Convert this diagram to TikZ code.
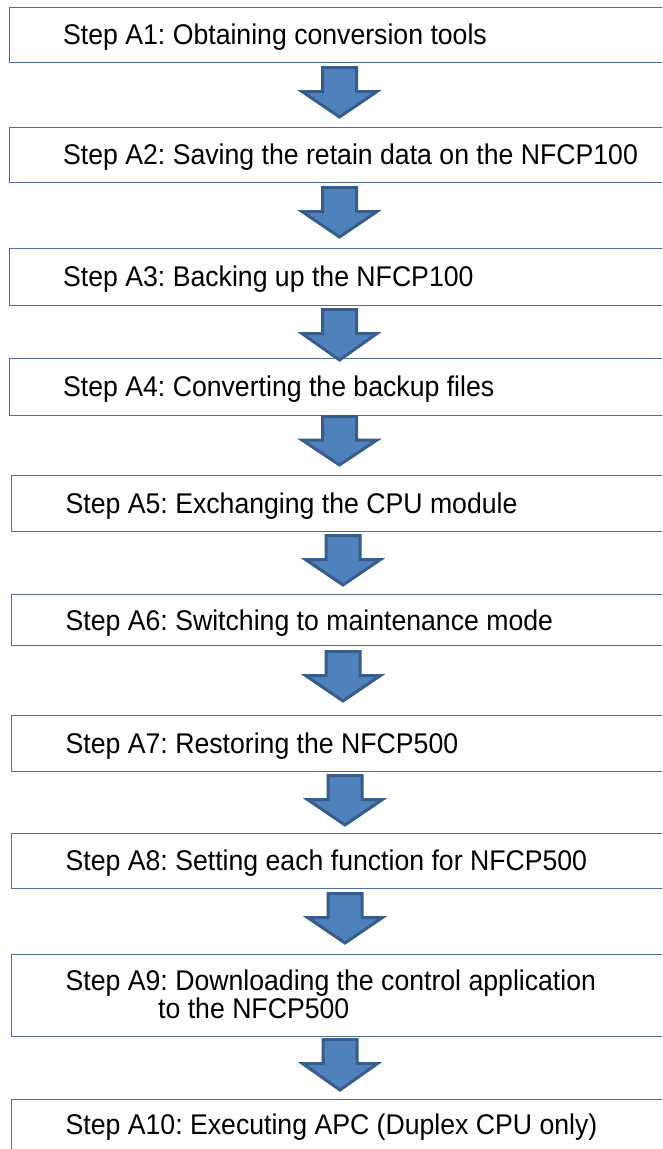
\documentclass[tikz,border=0pt]{standalone}
\usepackage{fontspec}
\setmainfont{Liberation Sans}[FakeStretch=0.935]
\frenchspacing
\definecolor{boxline}{RGB}{79,110,160}
\definecolor{arrfill}{RGB}{79,129,189}
\definecolor{arrline}{RGB}{56,93,138}
\tikzset{
  stepbox/.style={draw=boxline, line width=1.4pt, fill=white, minimum width=700pt, anchor=north west, inner sep=0pt},
  steptext/.style={anchor=base west, inner sep=0pt, font=\fontsize{28.5}{33}\selectfont},
  flowarr/.style={draw=arrline, fill=arrfill, line width=3pt, line join=miter, miter limit=10}
}
% x, shaft top, head base, tip
\newcommand\flowarrow[4]{%
  \draw[flowarr] (#1-17,#2) -- (#1+17,#2) -- (#1+17,#3) -- (#1+37.5,#3) -- (#1,#4) -- (#1-37.5,#3) -- (#1-17,#3) -- cycle;}
\begin{document}
\begin{tikzpicture}[x=1pt,y=-1pt]
\useasboundingbox (0,0) rectangle (662,1149);
\clip (0,0) rectangle (662,1149);
\fill[white] (0,0) rectangle (662,1149);

\node[stepbox, minimum height=55pt] (b1) at (9,7) {};
\node[stepbox, minimum height=55pt] (b2) at (9,127) {};
\node[stepbox, minimum height=57pt] (b3) at (9,248) {};
\node[stepbox, minimum height=57pt] (b4) at (9,358) {};
\node[stepbox, minimum height=56pt] (b5) at (11,475) {};
\node[stepbox, minimum height=51pt] (b6) at (11,594) {};
\node[stepbox, minimum height=56pt] (b7) at (11,715) {};
\node[stepbox, minimum height=55pt] (b8) at (11,833) {};
\node[stepbox, minimum height=82pt] (b9) at (11,954) {};
\node[stepbox, minimum height=70pt] (b10) at (11,1099) {};

\node[steptext] (t1) at (63,44.5) {Step A1: Obtaining conversion tools};
\node[steptext] (t2) at (63,164.5) {Step A2: Saving the retain data on the NFCP100};
\node[steptext] (t3) at (63,286.5) {Step A3: Backing up the NFCP100};
\node[steptext] (t4) at (63,396.5) {Step A4: Converting the backup files};
\node[steptext] (t5) at (65.5,513) {Step A5: Exchanging the CPU module};
\node[steptext] (t6) at (65.5,630.5) {Step A6: Switching to maintenance mode};
\node[steptext] (t7) at (65.5,753) {Step A7: Restoring the NFCP500};
\node[steptext] (t8) at (65.5,870.5) {Step A8: Setting each function for NFCP500};
\node[steptext] (t9) at (65.5,990) {Step A9: Downloading the control application};
\node[steptext] (t9b) at (158,1018.5) {to the NFCP500};
\node[steptext] (t10) at (65.5,1134) {Step A10: Executing APC (Duplex CPU only)};

\flowarrow{339.5}{67.5}{91.5}{117}
\flowarrow{339.5}{187.5}{211.5}{237}
\flowarrow{339.5}{309.5}{333.5}{360}
\flowarrow{339.5}{416.5}{440}{465}
\flowarrow{343}{535.5}{559.5}{585}
\flowarrow{343}{651.5}{675.5}{701}
\flowarrow{345}{775.5}{799.5}{825}
\flowarrow{345}{893.5}{917.5}{943}
\flowarrow{340}{1039.5}{1063.5}{1090}
\end{tikzpicture}
\end{document}
